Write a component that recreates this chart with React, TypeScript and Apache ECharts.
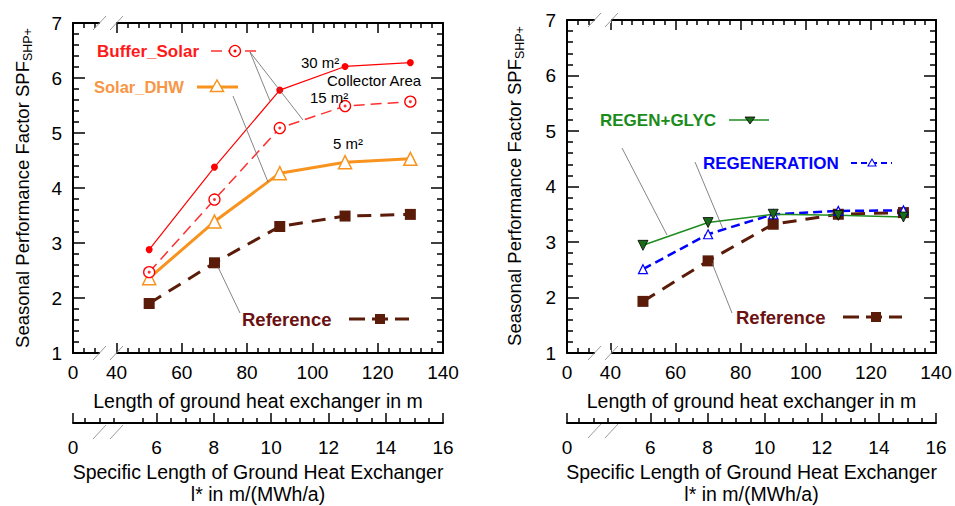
import React, { useEffect, useRef } from "react";
import * as echarts from "echarts";

// ---------------- data ----------------
const lengthTicks = [40, 60, 80, 100, 120, 140];
const specificTicks = [6, 8, 10, 12, 14, 16];
const xLengths = [50, 70, 90, 110, 130];

const bufferSolar30 = [2.88, 4.38, 5.78, 6.21, 6.28];
const bufferSolar15 = [2.47, 3.79, 5.09, 5.49, 5.57];
const solarDHW5 = [2.36, 3.39, 4.27, 4.47, 4.53];
const referenceLeft = [1.9, 2.64, 3.3, 3.49, 3.52];

const regenGlyc = [2.94, 3.35, 3.5, 3.48, 3.45];
const regeneration = [2.51, 3.14, 3.5, 3.56, 3.57];
const referenceRight = [1.93, 2.66, 3.32, 3.5, 3.53];

// ---------------- config ----------------
const FONT = "'Liberation Sans', Arial, Helvetica, sans-serif";
const X_MIN = 80 / 3;
const X_MAX = 140;
const S_MIN = 3.08;
const S_MAX = 16;
const TICK_FONT = 19;
const TITLE_FONT = 19.5;

const xMinor: number[] = [];
for (let k = 1; k < 34; k++) {
  if (k === 3) continue; // inside axis break
  if ((k - 4) % 6 === 0) continue; // major tick
  xMinor.push((80 + 10 * k) / 3);
}
const sMajor = [S_MIN, ...specificTicks];
const sMinor: number[] = [];
for (let v = 3.5; v < 16; v += 0.5) {
  if (v > 4.6 && v < 5.4) continue; // inside axis break
  if (Math.abs(v / 2 - Math.round(v / 2)) < 0.01 && v >= 6) continue;
  sMinor.push(v);
}

const pts = (ys: number[]) => xLengths.map((x, i) => [x, ys[i]]);

const black = "#000";
const tickStyle = { color: black, width: 1.5 };
const lineStyleAxis = { color: black, width: 2 };

function xAxesFor(gridIndex: number) {
  const base = {
    type: "value",
    gridIndex,
    min: X_MIN,
    max: X_MAX,
    splitLine: { show: false },
  };
  return [
    {
      ...base,
      position: "bottom",
      axisLine: { show: true, onZero: false, lineStyle: lineStyleAxis },
      axisTick: { show: true, inside: true, length: 10, customValues: lengthTicks, lineStyle: tickStyle },
      axisLabel: {
        show: true,
        customValues: [X_MIN, ...lengthTicks],
        formatter: (v: number) => (v < 39 ? "0" : String(Math.round(v))),
        fontSize: TICK_FONT,
        fontFamily: FONT,
        color: black,
        margin: 10,
        hideOverlap: false,
      },
      name: "Length of ground heat exchanger in m",
      nameLocation: "middle",
      nameGap: 37,
      nameTextStyle: { fontSize: TITLE_FONT, fontFamily: FONT, color: black, lineHeight: 21 },
    },
    {
      ...base,
      position: "bottom",
      axisLine: { show: false, onZero: false },
      axisTick: { show: true, inside: true, length: 5, customValues: xMinor, lineStyle: tickStyle },
      axisLabel: { show: false },
    },
    {
      ...base,
      position: "top",
      axisLine: { show: true, onZero: false, lineStyle: lineStyleAxis },
      axisTick: { show: true, inside: true, length: 10, customValues: lengthTicks, lineStyle: tickStyle },
      axisLabel: { show: false },
    },
    {
      ...base,
      position: "top",
      axisLine: { show: false, onZero: false },
      axisTick: { show: true, inside: true, length: 5, customValues: xMinor, lineStyle: tickStyle },
      axisLabel: { show: false },
    },
  ];
}

function secAxesFor(gridIndex: number) {
  const base = {
    type: "value",
    gridIndex,
    min: S_MIN,
    max: S_MAX,
    splitLine: { show: false },
  };
  return [
    {
      ...base,
      position: "bottom",
      axisLine: { show: true, onZero: false, lineStyle: lineStyleAxis },
      axisTick: { show: true, inside: true, length: 10, customValues: sMajor, lineStyle: tickStyle },
      axisLabel: {
        show: true,
        customValues: sMajor,
        formatter: (v: number) => (v < 5 ? "0" : String(Math.round(v))),
        fontSize: TICK_FONT,
        fontFamily: FONT,
        color: black,
        margin: 15,
        hideOverlap: false,
      },
      name: "Specific Length of Ground Heat Exchanger\nl* in m/(MWh/a)",
      nameLocation: "middle",
      nameGap: 38,
      nameTextStyle: { fontSize: TITLE_FONT, fontFamily: FONT, color: black, lineHeight: 22, align: "center" },
    },
    {
      ...base,
      position: "bottom",
      axisLine: { show: false, onZero: false },
      axisTick: { show: true, inside: true, length: 5, customValues: sMinor, lineStyle: tickStyle },
      axisLabel: { show: false },
    },
  ];
}

function yAxesFor(gridIndex: number) {
  const base = {
    type: "value",
    gridIndex,
    min: 1,
    max: 7,
    interval: 1,
    splitLine: { show: false },
    minorSplitLine: { show: false },
    axisLine: { show: true, onZero: false, lineStyle: lineStyleAxis },
    axisTick: { show: true, inside: true, length: 12, lineStyle: tickStyle },
    minorTick: { show: true, splitNumber: 5, length: 6, lineStyle: tickStyle },
  };
  return [
    {
      ...base,
      position: "left",
      axisLabel: { show: true, fontSize: TICK_FONT, fontFamily: FONT, color: black, margin: 11 },
    },
    { ...base, position: "right", axisLabel: { show: false } },
  ];
}

function breakMarks(xs: number[], ys: number[], gap: [number, number]) {
  const els: any[] = [];
  ys.forEach((y) => {
    els.push({
      type: "rect",
      z: 100,
      shape: { x: gap[0], y: y - 3, width: gap[1] - gap[0], height: 6 },
      style: { fill: "#fff" },
    });
    xs.forEach((x0) => {
      els.push({
        type: "line",
        z: 101,
        shape: { x1: x0, y1: y + 7, x2: x0 + 13, y2: y - 7 },
        style: { stroke: "#9a9a9a", lineWidth: 1 },
      });
    });
  });
  return els;
}

const leader = (x1: number, y1: number, x2: number, y2: number) => ({
  type: "line",
  z: 50,
  shape: { x1, y1, x2, y2 },
  style: { stroke: "#666", lineWidth: 0.8 },
});

const label = (text: string, x: number, y: number, color: string, bold = true, size = 17) => ({
  type: "text",
  z: 60,
  x,
  y,
  style: {
    text,
    fill: color,
    font: `${bold ? "bold " : ""}${size}px ${FONT}`,
    verticalAlign: "middle",
    align: "left",
  },
});

const yTitle = (x: number, y: number) => ({
  type: "text",
  z: 60,
  x,
  y,
  rotation: Math.PI / 2,
  style: {
    text: "Seasonal Performance Factor SPF{sub|SHP+}",
    fill: black,
    font: `18.5px ${FONT}`,
    align: "center",
    verticalAlign: "middle",
    lineHeight: 24,
    rich: {
      sub: { fontSize: 12.5, fontFamily: FONT, fill: black, verticalAlign: "bottom", lineHeight: 16 },
    },
  },
});

const RED = "#ff0000";
const RED_L = "#ff3030";
const ORANGE = "#f7931e";
const BROWN = "#5a1c08";
const GREEN = "#1e8c1e";
const BLUE = "#0000ff";

export default function App() {
  const ref = useRef<HTMLDivElement>(null);

  useEffect(() => {
    if (!ref.current) return;
    const chart = echarts.init(ref.current, undefined, { renderer: "svg" });

    const option: any = {
      animation: false,
      backgroundColor: "#fff",
      grid: [
        { left: 73, top: 23, width: 370, height: 330 },
        { left: 567, top: 20, width: 369, height: 333 },
        { left: 73, top: 420, width: 370, height: 12 },
        { left: 567, top: 419, width: 369, height: 12 },
      ],
      xAxis: [...xAxesFor(0), ...xAxesFor(1), ...secAxesFor(2), ...secAxesFor(3)],
      yAxis: [
        ...yAxesFor(0),
        ...yAxesFor(1),
        { type: "value", gridIndex: 2, min: 0, max: 1, show: false },
        { type: "value", gridIndex: 3, min: 0, max: 1, show: false },
      ],
      series: [
        // ---- left panel ----
        {
          name: "Reference",
          type: "line",
          xAxisIndex: 0,
          yAxisIndex: 0,
          data: pts(referenceLeft),
          lineStyle: { color: BROWN, width: 3, type: [14, 9] },
          symbol: "rect",
          symbolSize: 11,
          itemStyle: { color: BROWN },
        },
        {
          name: "Solar_DHW 5 m²",
          type: "line",
          xAxisIndex: 0,
          yAxisIndex: 0,
          data: pts(solarDHW5),
          lineStyle: { color: ORANGE, width: 3 },
          symbol: "triangle",
          symbolSize: 13,
          itemStyle: { color: "#fff", borderColor: ORANGE, borderWidth: 1.5 },
        },
        {
          name: "Buffer_Solar 15 m²",
          type: "line",
          xAxisIndex: 0,
          yAxisIndex: 0,
          data: pts(bufferSolar15),
          lineStyle: { color: RED_L, width: 1.5, type: [11, 6] },
          symbol: "circle",
          symbolSize: 11,
          itemStyle: { color: "#fff", borderColor: RED, borderWidth: 1.3 },
        },
        {
          name: "Buffer_Solar 15 m² centre",
          type: "scatter",
          xAxisIndex: 0,
          yAxisIndex: 0,
          data: pts(bufferSolar15),
          symbol: "circle",
          symbolSize: 3,
          itemStyle: { color: RED },
          z: 5,
        },
        {
          name: "Buffer_Solar 30 m²",
          type: "line",
          xAxisIndex: 0,
          yAxisIndex: 0,
          data: pts(bufferSolar30),
          lineStyle: { color: RED, width: 1.2 },
          symbol: "circle",
          symbolSize: 7,
          itemStyle: { color: RED },
        },
        // ---- right panel ----
        {
          name: "Reference (right)",
          type: "line",
          xAxisIndex: 4,
          yAxisIndex: 2,
          data: pts(referenceRight),
          lineStyle: { color: BROWN, width: 3, type: [14, 9] },
          symbol: "rect",
          symbolSize: 11,
          itemStyle: { color: BROWN },
        },
        {
          name: "REGENERATION",
          type: "line",
          xAxisIndex: 4,
          yAxisIndex: 2,
          data: pts(regeneration),
          lineStyle: { color: BLUE, width: 2.5, type: [9, 5] },
          symbol: "triangle",
          symbolSize: 9,
          itemStyle: { color: "#fff", borderColor: BLUE, borderWidth: 1.2 },
        },
        {
          name: "REGEN+GLYC",
          type: "line",
          xAxisIndex: 4,
          yAxisIndex: 2,
          data: pts(regenGlyc),
          lineStyle: { color: GREEN, width: 1.5 },
          symbol: "triangle",
          symbolRotate: 180,
          symbolSize: 10,
          itemStyle: { color: "#1a6a1a", borderColor: "#000", borderWidth: 0.8 },
        },
      ],
      graphic: [
        // axis breaks
        ...breakMarks([93, 110], [23, 353, 432], [100, 116]),
        ...breakMarks([588, 605], [20, 353, 431], [595, 611]),
        // y titles
        yTitle(22, 188),
        yTitle(514, 186),
        // left legend entries
        label("Buffer_Solar", 97, 51, "#ff1a1a"),
        {
          type: "line",
          z: 55,
          shape: { x1: 211, y1: 51, x2: 256, y2: 51 },
          style: { stroke: RED_L, lineWidth: 1.5, lineDash: [11, 6] },
        },
        { type: "circle", z: 56, shape: { cx: 235, cy: 51, r: 5.5 }, style: { fill: "#fff", stroke: RED, lineWidth: 1.3 } },
        { type: "circle", z: 57, shape: { cx: 235, cy: 51, r: 1.5 }, style: { fill: RED } },
        label("Solar_DHW", 94, 87, "#f79646", true, 16.5),
        {
          type: "line",
          z: 55,
          shape: { x1: 197, y1: 87, x2: 238, y2: 87 },
          style: { stroke: ORANGE, lineWidth: 3 },
        },
        {
          type: "polygon",
          z: 56,
          shape: { points: [[217, 80], [210.5, 91.5], [223.5, 91.5]] },
          style: { fill: "#fff", stroke: ORANGE, lineWidth: 1.5 },
        },
        label("Reference", 242, 319, "#6b1111", true, 18.5),
        {
          type: "line",
          z: 55,
          shape: { x1: 349, y1: 319, x2: 409, y2: 319 },
          style: { stroke: BROWN, lineWidth: 3, lineDash: [16, 7] },
        },
        { type: "rect", z: 56, shape: { x: 375, y: 314, width: 10, height: 10 }, style: { fill: BROWN } },
        // left annotations
        label("30 m²", 301, 62, black, false, 15),
        label("Collector Area", 327, 80.5, black, false, 15),
        label("15 m²", 310, 97, black, false, 15),
        label("5 m²", 333, 143, black, false, 15),
        // left leaders
        leader(250, 52, 270, 101),
        leader(250, 52, 303, 120),
        leader(233, 96, 268, 182),
        leader(218, 267, 240, 313),
        // right legend entries
        label("REGEN+GLYC", 600, 120, "#1a8c1a"),
        {
          type: "line",
          z: 55,
          shape: { x1: 729, y1: 120, x2: 769, y2: 120 },
          style: { stroke: GREEN, lineWidth: 1.5 },
        },
        {
          type: "polygon",
          z: 56,
          shape: { points: [[745, 117], [755, 117], [750, 124]] },
          style: { fill: "#1a6a1a", stroke: "#000", lineWidth: 0.8 },
        },
        label("REGENERATION", 703, 163, BLUE),
        {
          type: "line",
          z: 55,
          shape: { x1: 851, y1: 163, x2: 892, y2: 163 },
          style: { stroke: BLUE, lineWidth: 2, lineDash: [6, 4] },
        },
        {
          type: "polygon",
          z: 56,
          shape: { points: [[872, 159], [868, 166], [876, 166]] },
          style: { fill: "#fff", stroke: BLUE, lineWidth: 1.1 },
        },
        label("Reference", 736, 317, "#6b1111", true, 18.5),
        {
          type: "line",
          z: 55,
          shape: { x1: 843, y1: 317, x2: 902, y2: 317 },
          style: { stroke: BROWN, lineWidth: 3, lineDash: [16, 7] },
        },
        { type: "rect", z: 56, shape: { x: 871, y: 312, width: 10, height: 10 }, style: { fill: BROWN } },
        // right leaders
        leader(622, 148, 667, 235),
        leader(695, 162, 723, 229),
        leader(712, 263, 732, 313),
      ],
    };

    chart.setOption(option);
    return () => {
      chart.dispose();
    };
  }, []);

  return (
    <div
      ref={ref}
      style={{ position: "fixed", left: 0, top: 0, width: 955, height: 506, background: "#fff" }}
    />
  );
}
